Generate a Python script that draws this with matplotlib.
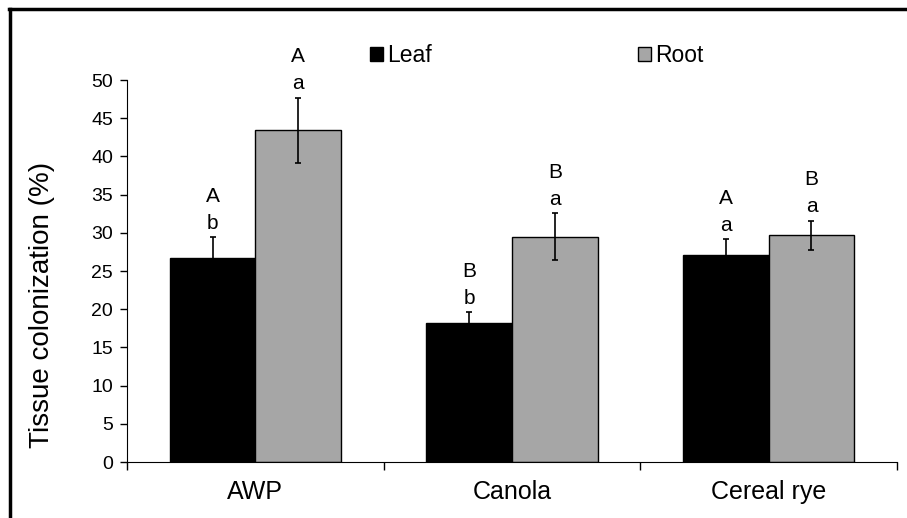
import matplotlib.pyplot as plt
from matplotlib.lines import Line2D
import numpy as np

plt.rcParams['font.family'] = ['Liberation Sans', 'DejaVu Sans']

crops = ['AWP', 'Canola', 'Cereal rye']
leaf = [26.7, 18.2, 27.1]
leaf_err = [2.7, 1.4, 2.1]
root = [43.4, 29.5, 29.7]
root_err = [4.3, 3.1, 1.9]
leaf_letters = [('A', 'b'), ('B', 'b'), ('A', 'a')]
root_letters = [('A', 'a'), ('B', 'a'), ('B', 'a')]

fig = plt.figure(figsize=(9.07, 5.18), dpi=100)
ax = fig.add_axes([0.140, 0.108, 0.849, 0.7375])

x = np.arange(len(crops))
w = 1 / 3
ekw = dict(ecolor='black', elinewidth=1.2, capsize=2.5, capthick=1.2)
ax.bar(x - w / 2, leaf, w, yerr=leaf_err, color='black', edgecolor='black',
       linewidth=1, label='Leaf', error_kw=ekw)
ax.bar(x + w / 2, root, w, yerr=root_err, color='#a6a6a6', edgecolor='black',
       linewidth=1, label='Root', error_kw=ekw)

def put_letters(xs, tops, errs, letters):
    for xi, t, e, (up, low) in zip(xs, tops, errs, letters):
        ax.annotate(low, (xi, t + e), xytext=(0, 6), textcoords='offset points',
                    ha='center', va='baseline', fontsize=15, annotation_clip=False)
        ax.annotate(up, (xi, t + e), xytext=(0, 25.5), textcoords='offset points',
                    ha='center', va='baseline', fontsize=15, annotation_clip=False)

put_letters(x - w / 2, leaf, leaf_err, leaf_letters)
put_letters(x + w / 2, root, root_err, root_letters)

ax.set_xlim(-0.5, 2.5)
ax.set_ylim(0, 50)
ax.set_yticks(np.arange(0, 51, 5))
ax.set_xticks(x)
ax.set_xticklabels(crops, fontsize=18)
ax.set_xticks(np.arange(-0.5, 2.6, 1), minor=True)
ax.tick_params(axis='x', which='major', length=0, pad=13)
ax.tick_params(axis='x', which='minor', length=6, width=1)
ax.tick_params(axis='y', labelsize=14, length=5, width=1, pad=5)
ax.set_ylabel('Tissue colonization (%)', fontsize=20)
ax.yaxis.set_label_coords(-0.094, 0.411)
for s in ['top', 'right']:
    ax.spines[s].set_visible(False)

ax.legend(loc='upper left', bbox_to_anchor=(0.3156, 1.095), ncol=2, frameon=False,
          fontsize=16.5, handlelength=0.55, handleheight=0.55, handletextpad=0.2,
          columnspacing=9.0, borderaxespad=0, borderpad=0)

# outer frame (left and top edges)
fig.add_artist(Line2D([0.011, 0.011], [0.0, 0.983], color='black', lw=2.5,
                      transform=fig.transFigure))
fig.add_artist(Line2D([0.010, 1.0], [0.983, 0.983], color='black', lw=2.5,
                      transform=fig.transFigure))

fig.savefig('out.png', dpi=100)
